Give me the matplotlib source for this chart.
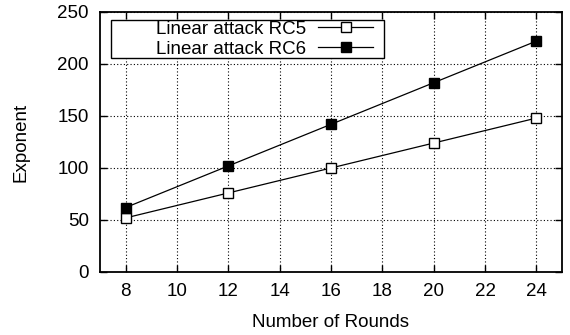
import matplotlib
matplotlib.use("Agg")
import matplotlib.pyplot as plt
from matplotlib.patches import Rectangle

rounds = [8, 12, 16, 20, 24]
rc5 = [52, 76, 100, 124, 148]
rc6 = [62, 102, 142, 182, 222]
labels = ["Linear attack RC5", "Linear attack RC6"]
xticks = [8, 10, 12, 14, 16, 18, 20, 22, 24]
yticks = [0, 50, 100, 150, 200, 250]

plt.rcParams['font.family'] = ['Liberation Sans', 'DejaVu Sans']
fs = 13.5

fig = plt.figure(figsize=(5.7, 3.35), dpi=100)
ax = fig.add_axes([100/570, 63/335, 462/570, 260/335])

ax.plot(rounds, rc5, color='black', lw=0.9, marker='s', ms=6.5,
        mfc='white', mec='black', mew=1.0, label=labels[0], zorder=3)
ax.plot(rounds, rc6, color='black', lw=0.9, marker='s', ms=7,
        mfc='black', mec='black', label=labels[1], zorder=3)

ax.set_xlim(7, 25)
ax.set_ylim(0, 250)
ax.set_xticks(xticks)
ax.set_yticks(yticks)
ax.grid(True, color='black', linestyle=(0, (1, 2)), linewidth=0.8)
ax.set_axisbelow(True)
for s in ax.spines.values():
    s.set_linewidth(1.3)
ax.tick_params(direction='in', length=5, width=1.0, top=True, right=True,
               labelsize=fs, pad=8, colors='black')
ax.set_xlabel("Number of Rounds", fontsize=fs, labelpad=10)
ax.set_ylabel("Exponent", fontsize=fs, labelpad=20)

# legend box
x0 = (111-100)/462
x1 = (384-100)/462
y1 = (272-20)/260
y0 = (272-58)/260
rect = Rectangle((x0, y0), x1-x0, y1-y0, transform=ax.transAxes,
                 facecolor='white', edgecolor='black', lw=1.0, zorder=4)
ax.add_patch(rect)
leg = ax.legend(loc='center right', bbox_to_anchor=(x1, (y0+y1)/2), bbox_transform=ax.transAxes,
                frameon=False, markerfirst=False, fontsize=fs, handlelength=2.9,
                handletextpad=0.65, borderpad=0.0, labelspacing=0.15, borderaxespad=0.6)
leg.set_zorder(5)

fig.savefig("out.png", dpi=100)
